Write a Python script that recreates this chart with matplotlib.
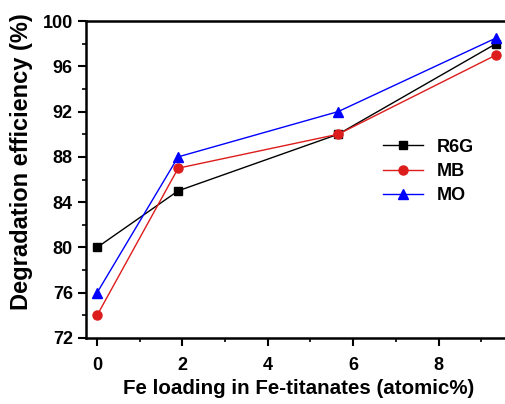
import numpy as np
import matplotlib
matplotlib.use("Agg")
from matplotlib import pyplot as plt
import matplotlib.ticker as mticker

plt.rcParams['font.family'] = ['Liberation Sans', 'DejaVu Sans']
plt.rcParams['font.weight'] = 'bold'

fe_loading = [0, 1.9, 5.65, 9.35]
r6g = [80, 85, 90, 98]
mb = [74, 87, 90, 97]
mo = [76, 88, 92, 98.5]

fig = plt.figure(figsize=(5.06, 4.04), dpi=100)
ax = fig.add_axes([86 / 506, 66 / 404, 1.0 - 86 / 506 + 0.01, 317 / 404])

ax.plot(fe_loading, r6g, color='black', marker='s', markersize=5.5, lw=1, label='R6G')
ax.plot(fe_loading, mb, color='#dd1c1c', marker='o', markersize=6.5, lw=1, label='MB')
ax.plot(fe_loading, mo, color='blue', marker='^', markersize=6.5, lw=1, label='MO')

ax.set_xlim(-0.26, 9.7)
ax.set_ylim(72, 100)
ax.set_xticks([0, 2, 4, 6, 8])
ax.set_yticks([72, 76, 80, 84, 88, 92, 96, 100])
ax.xaxis.set_minor_locator(mticker.MultipleLocator(1))
ax.yaxis.set_minor_locator(mticker.MultipleLocator(2))
ax.tick_params(which='major', direction='out', length=6, width=1.5, labelsize=13)
ax.tick_params(axis='x', which='major', pad=8)
ax.tick_params(which='minor', direction='out', length=3, width=1.2)
ax.tick_params(top=False, right=False)
for s in ax.spines.values():
    s.set_linewidth(1.8)
ax.spines['right'].set_visible(False)

ax.set_xlabel('Fe loading in Fe-titanates (atomic%)', fontsize=14.8, fontweight='bold', labelpad=3)
ax.set_ylabel('Degradation efficiency (%)', fontsize=17, fontweight='bold')
ax.yaxis.set_label_coords(-0.125, 0.555)

ax.legend(loc='upper left', bbox_to_anchor=(0.66, 0.68), frameon=False, fontsize=13,
          handlelength=2.2, labelspacing=0.4)

fig.savefig('out.png', dpi=100)
